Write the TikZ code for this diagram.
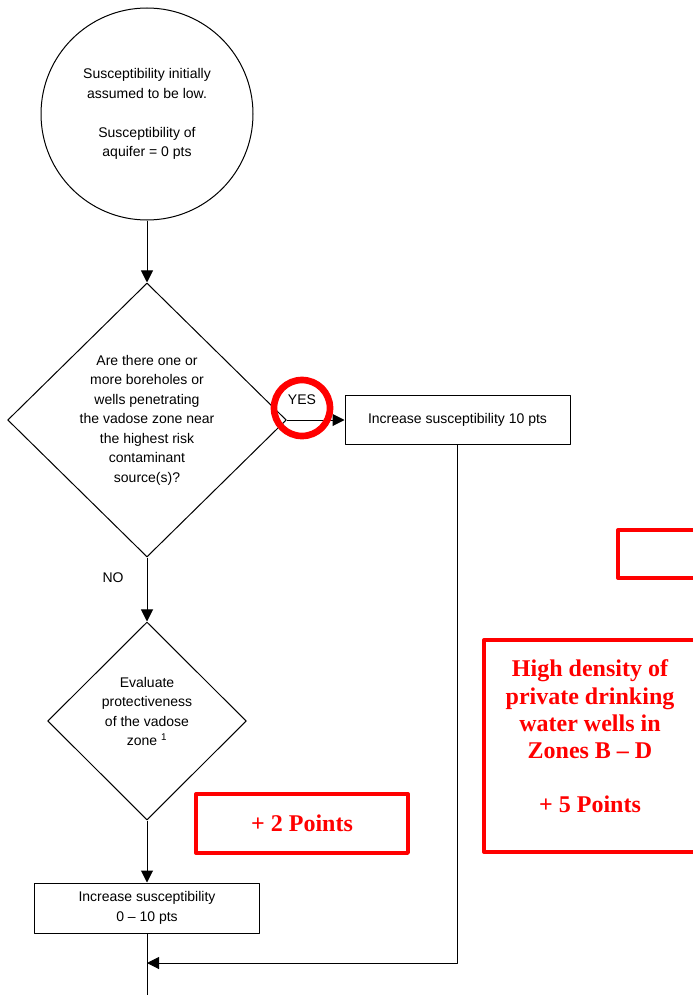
\documentclass[tikz,border=0pt]{standalone}
\usepackage{fontspec}
\setmainfont{Liberation Sans}
\newfontfamily\pointsfont{Liberation Serif}
\usetikzlibrary{shapes.geometric,arrows.meta}

\begin{document}
\begin{tikzpicture}[x=0.75pt,y=-0.75pt,line join=round,line width=0.75pt,
    >={Triangle[length=9pt,width=9pt]},
    font=\fontsize{10.5}{14.6}\selectfont,
    question/.style={draw,diamond,aspect=1,inner sep=0pt,align=center},
    stepbox/.style={draw,rectangle,minimum width=168.75pt,align=center},
    pointsbox/.style={draw=red,line width=2.5pt,rectangle,text=red,align=center,
      font=\pointsfont\bfseries\fontsize{18}{20.4}\selectfont,
      minimum width=159pt},
    pointstext/.style={text=red,align=center,
      font=\pointsfont\bfseries\fontsize{18}{20.4}\selectfont}]
    \useasboundingbox (0,0) rectangle (692,995);
    % flow chart
    \node[draw,circle,minimum size=159pt,align=center] (start) at (147,114)
      {Susceptibility initially\\assumed to be low.\\[14.6pt]Susceptibility of\\aquifer = 0 pts};
    \node[question,minimum width=209pt,minimum height=205.5pt] (q1) at (147,420)
      {Are there one or\\more boreholes or\\wells penetrating\\the vadose zone near\\the highest risk\\contaminant\\source(s)?};
    \node[stepbox,minimum height=36.75pt] (b1) at (457.5,420)
      {Increase susceptibility 10 pts};
    \node[question,minimum width=149pt,minimum height=148.5pt] (q2) at (147,721)
      {Evaluate\\protectiveness\\of the vadose\\zone \textsuperscript{1}\\ ~};
    \node[stepbox,minimum height=37.5pt] (b2) at (147,908)
      {Increase susceptibility\\0 – 10 pts};
    \coordinate (join) at (147,963);
    \coordinate (exit) at (147,996);
    \node (yes) at (302,400) {YES};
    \node (no) at (113,578) {NO};
    \draw[->] (start) -- (q1);
    \draw[->] (q1) -- (b1);
    \draw[->] (q1) -- (q2);
    \draw[->] (q2) -- (b2);
    \draw (b2) -- (exit);
    \draw[->] (b1.south) |- (join);
    % red marks
    \node[draw=red,line width=5pt,circle,minimum size=42pt] (ring) at (302,408) {};
    \node[pointsbox,minimum height=44.25pt] (plus2) at (302,823.5) {+ 2 Points};
    \node[pointsbox,minimum height=159pt] (wells) at (590,746) {};
    \node[pointstext] (wellstext) at (590,736.5)
      {High density of\\private drinking\\water wells in\\Zones B – D\\[20.4pt]+ 5 Points};
    \node[pointsbox,minimum height=36pt] (blank) at (724,554) {};
\end{tikzpicture}
\end{document}
